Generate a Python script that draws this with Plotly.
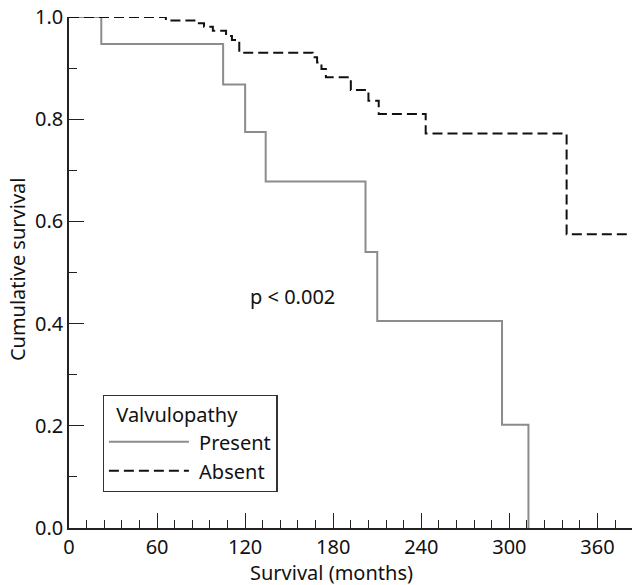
import plotly.graph_objects as go

# Kaplan-Meier steps
present_months = [0, 22, 105, 120, 134, 202, 210, 295, 313]
present_survival = [1.0, 0.947, 0.868, 0.775, 0.678, 0.540, 0.405, 0.202, 0.0]

absent_months = [0, 66, 87, 92, 98, 107, 111, 116, 166, 169, 172, 175,
                 192, 204, 211, 243, 339, 380]
absent_survival = [1.0, 0.993, 0.988, 0.981, 0.973, 0.963, 0.955, 0.930,
                   0.921, 0.911, 0.898, 0.882, 0.857, 0.836, 0.810, 0.772,
                   0.575, 0.575]

x_ticks = [0, 60, 120, 180, 240, 300, 360]
y_ticks = [0.0, 0.2, 0.4, 0.6, 0.8, 1.0]

FONT = "Noto Sans"
FONT_SIZE = 20
AXIS_COLOR = "#222222"
TEXT_COLOR = "#111111"

fig = go.Figure()

fig.add_trace(go.Scatter(
    x=present_months, y=present_survival,
    mode="lines", line_shape="hv", cliponaxis=False,
    line=dict(color="#8c8c8c", width=2),
    name="&nbsp;Present",
))

fig.add_trace(go.Scatter(
    x=absent_months, y=absent_survival,
    mode="lines", line_shape="hv", cliponaxis=False,
    line=dict(color=TEXT_COLOR, width=2, dash="10px,5px"),
    name="&nbsp;Absent",
))

fig.add_annotation(
    x=152.5, y=0.454, xref="x", yref="y",
    text="p < 0.002", showarrow=False,
    font=dict(family=FONT, size=FONT_SIZE, color=TEXT_COLOR),
)

# axis titles placed as annotations to match the reference positions
fig.add_annotation(
    x=0.459, y=-0.0877, xref="paper", yref="paper",
    xanchor="center", yanchor="middle",
    text="Survival (months)", showarrow=False,
    font=dict(family=FONT, size=FONT_SIZE, color=TEXT_COLOR),
)
fig.add_annotation(
    x=-0.089, y=0.507, xref="paper", yref="paper",
    xanchor="center", yanchor="middle",
    text="Cumulative survival", showarrow=False, textangle=-90,
    font=dict(family=FONT, size=FONT_SIZE, color=TEXT_COLOR),
)

fig.update_xaxes(
    range=[0, 389],
    tickvals=x_ticks,
    ticktext=[str(v) for v in x_ticks],
    ticks="inside", ticklen=15, tickwidth=1.2, tickcolor=AXIS_COLOR,
    minor=dict(dtick=12, tick0=0, ticks="inside", ticklen=8,
               tickwidth=1.2, tickcolor=AXIS_COLOR),
    showline=True, linecolor=AXIS_COLOR, linewidth=1.5,
    showgrid=False, zeroline=False, automargin=False,
    ticklabeloverflow="allow",
    tickfont=dict(family=FONT, size=FONT_SIZE, color=TEXT_COLOR),
)

fig.update_yaxes(
    range=[0, 1.0],
    tickvals=y_ticks,
    ticktext=[f"{v:.1f}" for v in y_ticks],
    ticks="inside", ticklen=15, tickwidth=1.2, tickcolor=AXIS_COLOR,
    minor=dict(dtick=0.1, tick0=0, ticks="inside", ticklen=8,
               tickwidth=1.2, tickcolor=AXIS_COLOR),
    showline=True, linecolor=AXIS_COLOR, linewidth=1.5,
    showgrid=False, zeroline=False, automargin=False,
    ticklabeloverflow="allow",
    tickfont=dict(family=FONT, size=FONT_SIZE, color=TEXT_COLOR),
)

# the page adds an 8px body margin, so the figure is sized to fill the rest
fig.update_layout(
    width=632,
    height=577,
    margin=dict(l=61, r=0, t=9, b=57),
    plot_bgcolor="white",
    paper_bgcolor="white",
    font=dict(family=FONT, size=FONT_SIZE, color=TEXT_COLOR),
    legend=dict(
        title=dict(text="&nbsp;&nbsp;Valvulopathy",
                   font=dict(family=FONT, size=FONT_SIZE)),
        x=0.059, y=0.26, xanchor="left", yanchor="top",
        bordercolor="#333333", borderwidth=1.2,
        bgcolor="white",
        itemwidth=80,
        font=dict(family=FONT, size=FONT_SIZE),
    ),
)

fig.write_html("out.html")
